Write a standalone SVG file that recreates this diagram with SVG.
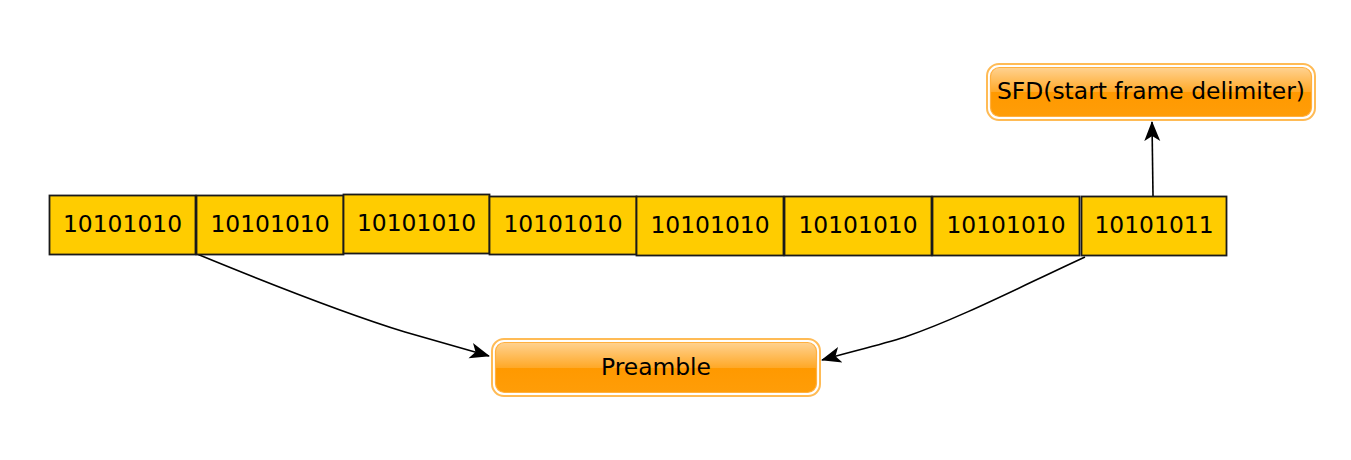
<svg xmlns="http://www.w3.org/2000/svg" width="1351" height="460" viewBox="0 0 1351 460">
<style>
.box{fill:#ffcc00;stroke:#1a1a1a;stroke-width:1.8}
.t{font-family:"DejaVu Sans",sans-serif;font-size:23.4px;fill:#000;text-anchor:middle}
.outer{fill:none;stroke:#ffbb55;stroke-width:2}
.inner{stroke:#ffb040;stroke-width:1.2}
.conn{fill:none;stroke:#000;stroke-width:1.6}
</style>
<defs>
<linearGradient id="gl" x1="0" y1="0" x2="0" y2="1">
<stop offset="0" stop-color="#ffd291"/>
<stop offset="0.5" stop-color="#ffa928"/>
<stop offset="0.5" stop-color="#ff9900"/>
<stop offset="1" stop-color="#ff9d08"/>
</linearGradient>
<marker id="ah2" viewBox="0 0 20 20" refX="19" refY="10" markerWidth="20" markerHeight="20" markerUnits="userSpaceOnUse" orient="auto">
<path d="M0,2 L20,10 L0,18 L5,10 Z" fill="#000"/>
</marker>
</defs>
<g id="connectors">
<path class="conn" d="M197,254 C270,284 340,312 405,332 C440,342 465,349 489,356" marker-end="url(#ah2)"/>
<path class="conn" d="M1085,257 C1020,287 960,318 905,337 C880,345 850,352 822,360" marker-end="url(#ah2)"/>
<path class="conn" d="M1153,196 L1152,122" marker-end="url(#ah2)"/>
</g>
<g id="b1"><rect class="box" x="49.5" y="195.5" width="146" height="59"/><text class="t" x="122.5" y="232">10101010</text></g>
<g id="b2"><rect class="box" x="196.5" y="195.5" width="147" height="59"/><text class="t" x="270" y="232">10101010</text></g>
<g id="b3"><rect class="box" x="343.5" y="194.5" width="146" height="59"/><text class="t" x="416.5" y="231">10101010</text></g>
<g id="b4"><rect class="box" x="489.5" y="196.5" width="147" height="58"/><text class="t" x="563" y="232">10101010</text></g>
<g id="b5"><rect class="box" x="636.5" y="196.5" width="147" height="59"/><text class="t" x="710" y="233">10101010</text></g>
<g id="b6"><rect class="box" x="784.5" y="196.5" width="147" height="59"/><text class="t" x="858" y="233">10101010</text></g>
<g id="b7"><rect class="box" x="932.5" y="196.5" width="147" height="59"/><text class="t" x="1006" y="233">10101010</text></g>
<g id="b8"><rect class="box" x="1081.5" y="196.5" width="145" height="59"/><text class="t" x="1154" y="233">10101011</text></g>
<g id="sfd">
<rect class="outer" x="987" y="64" width="328" height="56" rx="12"/>
<rect class="inner" x="990.5" y="67.5" width="321" height="49" rx="9" fill="url(#gl)"/>
<text class="t" x="1151" y="99">SFD(start frame delimiter)</text>
</g>
<g id="preamble">
<rect class="outer" x="492" y="339" width="328" height="57" rx="12"/>
<rect class="inner" x="495.5" y="342.5" width="321" height="50" rx="9" fill="url(#gl)"/>
<text class="t" x="656" y="375">Preamble</text>
</g>
</svg>
